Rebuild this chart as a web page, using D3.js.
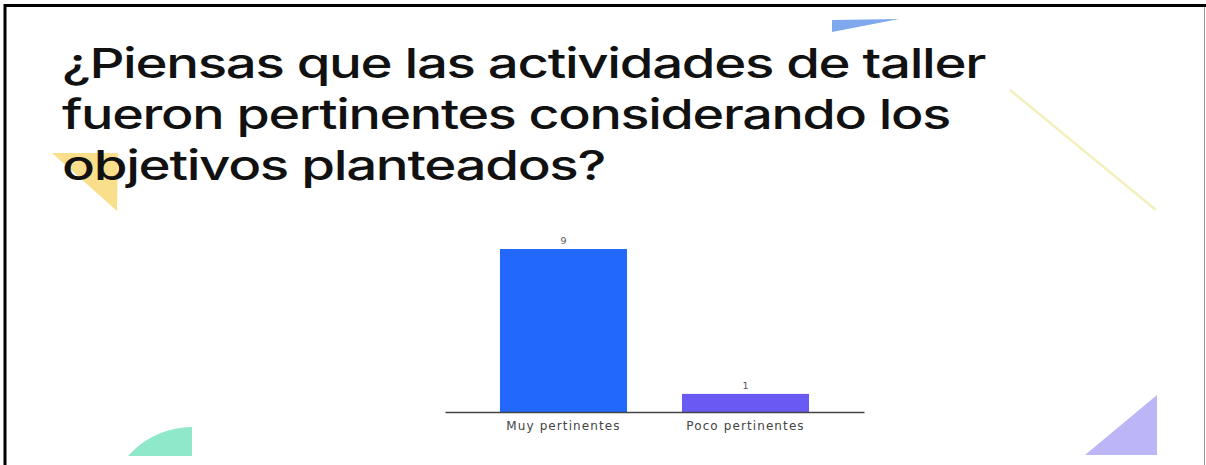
<!DOCTYPE html>
<html>
<head>
<meta charset="utf-8">
<script src="https://cdn.jsdelivr.net/npm/d3@7"></script>
<style>
  html, body { margin: 0; padding: 0; background: #fff; }
  svg { display: block; }
</style>
</head>
<body>
<svg id="chart" width="1206" height="465"></svg>
<script>
// ---- data ----
const categories = ["Muy pertinentes", "Poco pertinentes"];
const values = [9, 1];
const barColors = ["#2168fb", "#6a5af4"];
const titleLines = [
  "¿Piensas que las actividades de taller",
  "fueron pertinentes considerando los",
  "objetivos planteados?"
];

const svg = d3.select("#chart");
const W = 1206, H = 465;

// ---- decorative background shapes ----
const deco = svg.append("g");
deco.append("path").attr("d", "M832,20 L899,19 L832,32 Z").attr("fill", "#7fa8ef");
deco.append("line").attr("x1", 1010).attr("y1", 90).attr("x2", 1156).attr("y2", 210)
  .attr("stroke", "#f4f0bd").attr("stroke-width", 2.5);
deco.append("path").attr("d", "M52,153 L118,153 L117,211 Z").attr("fill", "#f9df8c");
deco.append("clipPath").attr("id", "gclip").append("rect")
  .attr("x", 100).attr("y", 400).attr("width", 92).attr("height", 56);
deco.append("circle").attr("cx", 192).attr("cy", 512).attr("r", 85)
  .attr("fill", "#8ee8c9").attr("clip-path", "url(#gclip)");
deco.append("path").attr("d", "M1085,455 L1157,395 L1157,455 Z").attr("fill", "#bcb6f6");

// ---- title ----
const title = svg.append("g");
const lineWidths = [923, 888, 543];
titleLines.forEach((t, i) => {
  title.append("text")
    .attr("x", 62).attr("y", 78 + i * 51)
    .attr("font-family", "Inter, 'Open Sans', sans-serif")
    .attr("font-size", 41)
    .attr("font-weight", 500)
    .attr("letter-spacing", -1)
    .attr("fill", "#111")
    .attr("textLength", lineWidths[i])
    .attr("lengthAdjust", "spacingAndGlyphs")
    .text(t);
});

// ---- chart ----
const x = d3.scaleBand().domain(categories).range([445, 864])
  .paddingInner(0.302).paddingOuter(0.302);
const y = d3.scaleLinear().domain([0, 9]).range([412, 249]);

svg.append("g").selectAll("rect").data(values).join("rect")
  .attr("x", (d, i) => x(categories[i]))
  .attr("y", d => y(d))
  .attr("width", x.bandwidth())
  .attr("height", d => y(0) - y(d))
  .attr("fill", (d, i) => barColors[i]);

svg.append("g").selectAll("text").data(values).join("text")
  .attr("x", (d, i) => x(categories[i]) + x.bandwidth() / 2)
  .attr("y", d => y(d) - 5)
  .attr("text-anchor", "middle")
  .attr("font-family", "'DejaVu Sans', sans-serif")
  .attr("font-size", 9.5)
  .attr("fill", "#555")
  .text(d => d);

const axis = svg.append("g").attr("transform", `translate(0,${y(0)})`)
  .call(d3.axisBottom(x).tickSize(0).tickPadding(9));
axis.select(".domain").attr("stroke", "#444").attr("stroke-width", 1.5);
axis.selectAll(".tick text")
  .attr("font-family", "'DejaVu Sans', sans-serif")
  .attr("font-size", 12)
  .attr("letter-spacing", 1.1)
  .attr("fill", "#444");

// ---- frame ----
svg.append("line").attr("x1", 4).attr("y1", 5.5).attr("x2", W).attr("y2", 5.5)
  .attr("stroke", "#000").attr("stroke-width", 3);
svg.append("line").attr("x1", 5).attr("y1", 4).attr("x2", 5).attr("y2", H)
  .attr("stroke", "#000").attr("stroke-width", 3);
svg.append("line").attr("x1", 1204.5).attr("y1", 7).attr("x2", 1204.5).attr("y2", H)
  .attr("stroke", "#999").attr("stroke-width", 1);
</script>
</body>
</html>
